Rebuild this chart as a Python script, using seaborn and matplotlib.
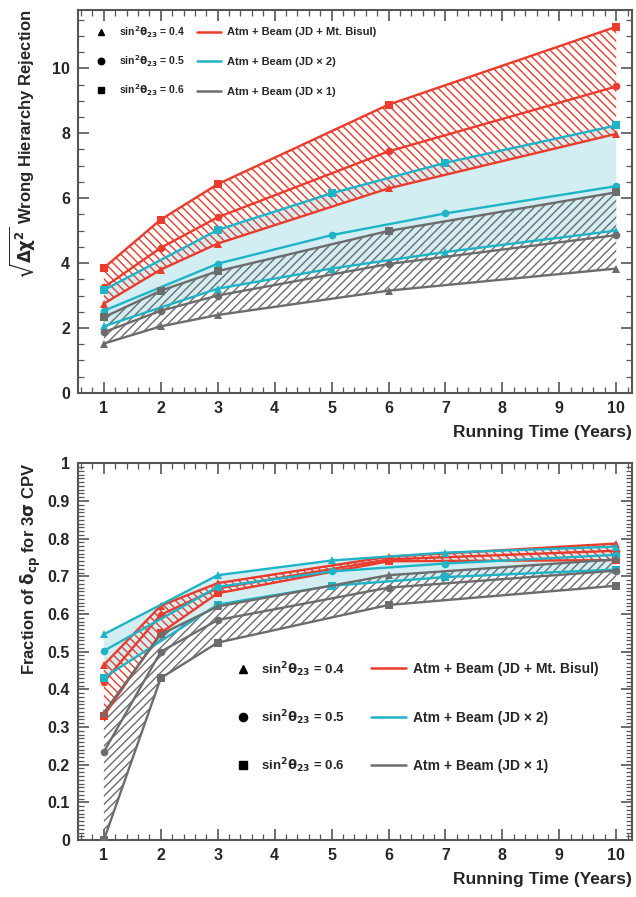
import numpy as np
import pandas as pd
import seaborn as sns
import matplotlib.pyplot as plt
from matplotlib.lines import Line2D
from matplotlib.ticker import MultipleLocator

# running time points per configuration
years_red = [1, 2, 3, 6, 10]
years_cyan = [1, 3, 5, 7, 10]
years_gray = [1, 2, 3, 6, 10]

# sqrt(dchi2) wrong hierarchy rejection
wh_red_04 = [2.75, 3.80, 4.60, 6.30, 7.98]
wh_red_05 = [3.25, 4.47, 5.41, 7.44, 9.44]
wh_red_06 = [3.85, 5.34, 6.43, 8.88, 11.28]
wh_cyan_04 = [2.05, 3.21, 3.83, 4.34, 5.00]
wh_cyan_05 = [2.53, 3.98, 4.86, 5.53, 6.37]
wh_cyan_06 = [3.17, 5.02, 6.15, 7.09, 8.24]
wh_gray_04 = [1.52, 2.05, 2.40, 3.15, 3.83]
wh_gray_05 = [1.87, 2.53, 3.00, 3.97, 4.86]
wh_gray_06 = [2.33, 3.15, 3.75, 4.99, 6.18]

# fraction of delta_cp for 3 sigma CPV
cp_red_04 = [0.465, 0.622, 0.682, 0.752, 0.787]
cp_red_05 = [0.420, 0.598, 0.668, 0.745, 0.768]
cp_red_06 = [0.330, 0.550, 0.655, 0.740, 0.743]
cp_cyan_04 = [0.546, 0.703, 0.742, 0.763, 0.779]
cp_cyan_05 = [0.502, 0.672, 0.713, 0.734, 0.757]
cp_cyan_06 = [0.431, 0.625, 0.675, 0.698, 0.718]
cp_gray_04 = [0.338, 0.546, 0.620, 0.703, 0.745]
cp_gray_05 = [0.234, 0.500, 0.584, 0.670, 0.715]
cp_gray_06 = [0.000, 0.430, 0.524, 0.624, 0.675]

configs = ['Atm + Beam (JD + Mt. Bisul)', 'Atm + Beam (JD \u00d7 2)', 'Atm + Beam (JD \u00d7 1)']
thetas = ['0.4', '0.5', '0.6']
theta_labels = [r'sin$^2\theta_{23}$ = 0.4', r'sin$^2\theta_{23}$ = 0.5', r'sin$^2\theta_{23}$ = 0.6']
colors = ['#ea3b2c', '#1fb3c6', '#6c6c6c']
markers = {'0.4': '^', '0.5': 'o', '0.6': 's'}


def make_frame(red, cyan, gray):
    rows = []
    for cfg, yrs, series in [(configs[0], years_red, red), (configs[1], years_cyan, cyan), (configs[2], years_gray, gray)]:
        for th, vals in zip(thetas, series):
            for x, v in zip(yrs, vals):
                rows.append({'year': x, 'value': v, 'config': cfg, 'theta': th})
    return pd.DataFrame(rows)


wh_df = make_frame([wh_red_04, wh_red_05, wh_red_06], [wh_cyan_04, wh_cyan_05, wh_cyan_06], [wh_gray_04, wh_gray_05, wh_gray_06])
cp_df = make_frame([cp_red_04, cp_red_05, cp_red_06], [cp_cyan_04, cp_cyan_05, cp_cyan_06], [cp_gray_04, cp_gray_05, cp_gray_06])

sns.set_style('ticks')
plt.rcParams['font.family'] = ['Liberation Sans', 'DejaVu Sans']
plt.rcParams['font.weight'] = 'bold'
plt.rcParams['mathtext.fontset'] = 'dejavusans'
plt.rcParams['mathtext.default'] = 'bf'
plt.rcParams['hatch.linewidth'] = 1.0

fig = plt.figure(figsize=(6.36, 8.97), dpi=100)
ax1 = fig.add_axes([0.123, 0.562, 0.871, 0.427])
ax2 = fig.add_axes([0.123, 0.0635, 0.871, 0.420])


def band(ax, yrs, low, high, color, hatch, fill=False):
    xs = np.r_[yrs, yrs[::-1]]
    ys = np.r_[high, low[::-1]]
    if fill:
        ax.fill(xs, ys, facecolor='#d3eef3', edgecolor='none', linewidth=0, zorder=1)
    else:
        ax.fill(xs, ys, facecolor='none', edgecolor=color, hatch=hatch, linewidth=0, zorder=2)


def draw_panel(ax, df, bands):
    band(ax, years_cyan, bands[1][0], bands[1][1], colors[1], None, fill=True)
    band(ax, years_gray, bands[2][0], bands[2][1], colors[2], '////')
    band(ax, years_red, bands[0][0], bands[0][1], colors[0], '\\\\\\\\')
    sns.lineplot(data=df, x='year', y='value', hue='config', style='theta', hue_order=configs,
                 style_order=thetas, palette=colors, markers=markers, dashes=False, estimator=None,
                 markersize=5.5, markeredgewidth=0, linewidth=1.7, legend=False, ax=ax, zorder=3)
    ax.set_xlim(0.55, 10.28)
    ax.xaxis.set_major_locator(MultipleLocator(1))
    ax.xaxis.set_minor_locator(MultipleLocator(0.2))
    ax.tick_params(which='both', direction='in', top=True, right=True, color='#555555')
    ax.tick_params(which='major', length=8, width=1.2, labelsize=11.5, pad=6)
    ax.tick_params(which='minor', length=4, width=0.9)
    for s in ax.spines.values():
        s.set_color('#555555')
        s.set_linewidth(1.5)
    ax.set_xlabel('Running Time (Years)', loc='right', fontsize=12.5, fontweight='bold', labelpad=6)


def draw_legends(ax, fs1, fs2, a1, a2, ls1, ls2, pad1, hl2, pad2):
    # marker column and line column as two legends so the rows line up
    mh = [Line2D([], [], color='black', marker=markers[t], linestyle='none', markersize=fs1 * 0.62) for t in thetas]
    lh = [Line2D([], [], color=c, linewidth=1.8) for c in colors]
    leg1 = ax.legend(mh, theta_labels, loc='upper left', bbox_to_anchor=a1, frameon=False, fontsize=fs1,
                     handlelength=1.0, handletextpad=pad1, labelspacing=ls1, borderpad=0, borderaxespad=0)
    ax.add_artist(leg1)
    ax.legend(lh, configs, loc='upper left', bbox_to_anchor=a2, frameon=False, fontsize=fs2,
              handlelength=hl2, handletextpad=pad2, labelspacing=ls2, borderpad=0, borderaxespad=0)


draw_panel(ax1, wh_df, [(wh_red_04, wh_red_06), (wh_cyan_04, wh_cyan_06), (wh_gray_04, wh_gray_06)])
ax1.set_ylim(0, 11.8)
ax1.yaxis.set_major_locator(MultipleLocator(2))
ax1.yaxis.set_minor_locator(MultipleLocator(0.5))
ax1.set_ylabel(r'$\sqrt{\Delta\chi^2}$ Wrong Hierarchy Rejection', loc='top', fontsize=12, fontweight='bold', labelpad=10)
draw_legends(ax1, 7.5, 8, (0.032, 0.963), (0.215, 0.954), 1.3, 1.76, 1.2, 2.15, 0.55)

draw_panel(ax2, cp_df, [(cp_red_06, cp_red_04), (cp_cyan_06, cp_cyan_04), (cp_gray_06, cp_gray_04)])
ax2.set_ylim(0, 1)
ax2.yaxis.set_major_locator(MultipleLocator(0.1))
ax2.yaxis.set_minor_locator(MultipleLocator(0.01))
ax2.set_yticks(np.arange(0, 1.01, 0.1))
ax2.set_yticklabels(['0'] + ['%.1f' % v for v in np.arange(0.1, 0.95, 0.1)] + ['1'])
ax2.set_ylabel(r'Fraction of $\delta_{cp}$ for 3$\sigma$ CPV', loc='top', fontsize=12, fontweight='bold', labelpad=3)
draw_legends(ax2, 9.5, 10, (0.285, 0.478), (0.529, 0.473), 2.23, 2.5, 0.86, 2.5, 0.5)

fig.savefig('out.png', dpi=100)
